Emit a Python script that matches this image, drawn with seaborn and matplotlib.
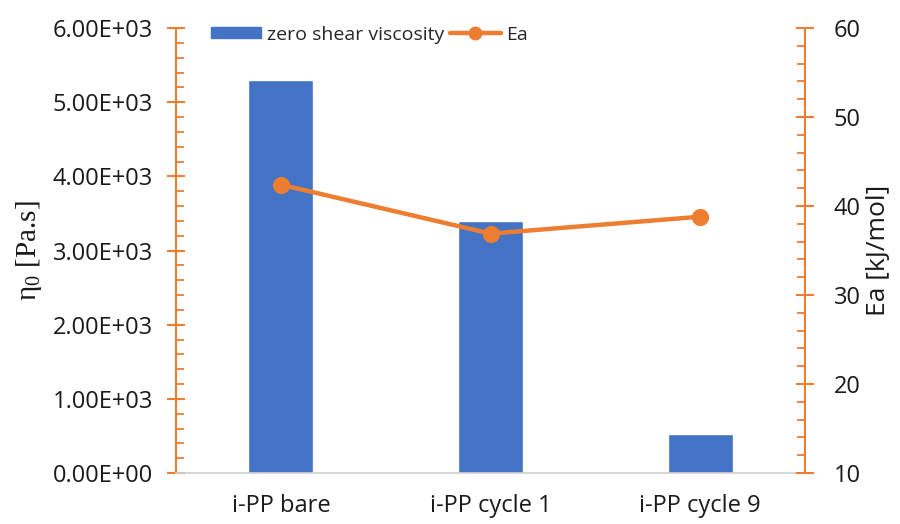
import matplotlib
matplotlib.use("Agg")
import matplotlib.pyplot as plt
from matplotlib.ticker import MultipleLocator, FuncFormatter
from matplotlib.patches import Patch
from matplotlib.lines import Line2D
import seaborn as sns
import pandas as pd

samples = ["i-PP bare", "i-PP cycle 1", "i-PP cycle 9"]
viscosity = [5300, 3400, 520]
ea = [42.4, 36.9, 38.8]

BLUE = "#4472C4"
ORANGE = "#ED7D31"
TEXT = "#1a1a1a"

sns.set_theme(style="white")
plt.rcParams["font.family"] = ["Open Sans", "DejaVu Sans"]

df = pd.DataFrame({"sample": samples, "eta0": viscosity, "Ea": ea})

fig = plt.figure(figsize=(9, 5.24), dpi=100)
ax = fig.add_axes([0.1956, 0.0973, 0.6989, 0.8492])

sns.barplot(data=df, x="sample", y="eta0", color=BLUE, width=0.31,
            saturation=1, ax=ax)

ax2 = ax.twinx()
sns.pointplot(data=df, x="sample", y="Ea", color=ORANGE, ax=ax2,
              markers="o", markersize=10, linewidth=3.2)

ax.set_xlim(-0.5, 2.5)
ax.set_ylim(0, 6000)
ax2.set_ylim(10, 60)

ax.yaxis.set_major_locator(MultipleLocator(1000))
ax.yaxis.set_minor_locator(MultipleLocator(200))
ax.yaxis.set_major_formatter(FuncFormatter(lambda v, p: f"{v:.2E}"))
ax2.yaxis.set_major_locator(MultipleLocator(10))
ax2.yaxis.set_minor_locator(MultipleLocator(2))

for a in (ax, ax2):
    for s in a.spines.values():
        s.set_visible(False)

ax.spines["left"].set_visible(True)
ax.spines["left"].set_color(ORANGE)
ax.spines["left"].set_linewidth(1.5)
ax.spines["bottom"].set_visible(True)
ax.spines["bottom"].set_color("#D0D0D0")
ax.spines["bottom"].set_linewidth(1.2)
ax2.spines["right"].set_visible(True)
ax2.spines["right"].set_color(ORANGE)
ax2.spines["right"].set_linewidth(1.5)

ax.tick_params(axis="y", which="major", direction="inout", length=13, width=1.5,
               color=ORANGE, labelsize=17, labelcolor=TEXT, pad=10, left=True)
ax.tick_params(axis="y", which="minor", direction="in", length=6, width=1.3,
               color=ORANGE, left=True)
ax2.tick_params(axis="y", which="major", direction="inout", length=13, width=1.5,
                color=ORANGE, labelsize=17, labelcolor=TEXT, pad=14, right=True)
ax2.tick_params(axis="y", which="minor", direction="in", length=6, width=1.3,
                color=ORANGE, right=True)
ax.tick_params(axis="x", bottom=False, labelsize=17, labelcolor=TEXT, pad=9)

ax.set_xlabel("")
ax.set_ylabel(r"$\mathregular{\eta_0}$ [Pa.s]", family=["Liberation Serif", "DejaVu Serif"],
              fontsize=21, color=TEXT, labelpad=6)
ax2.set_ylabel("Ea [kJ/mol]", fontsize=19, color=TEXT, labelpad=4)

handles = [Patch(facecolor=BLUE, edgecolor=BLUE),
           Line2D([0], [0], color=ORANGE, lw=3.2, marker="o", markersize=9)]
ax.legend(handles, ["zero shear viscosity", "Ea"], ncol=2, frameon=False,
          loc="upper left", bbox_to_anchor=(0.027, 1.045), fontsize=14,
          handlelength=2.6, handleheight=0.5, columnspacing=0.3, handletextpad=0.3)

fig.savefig("out.png", dpi=100)
